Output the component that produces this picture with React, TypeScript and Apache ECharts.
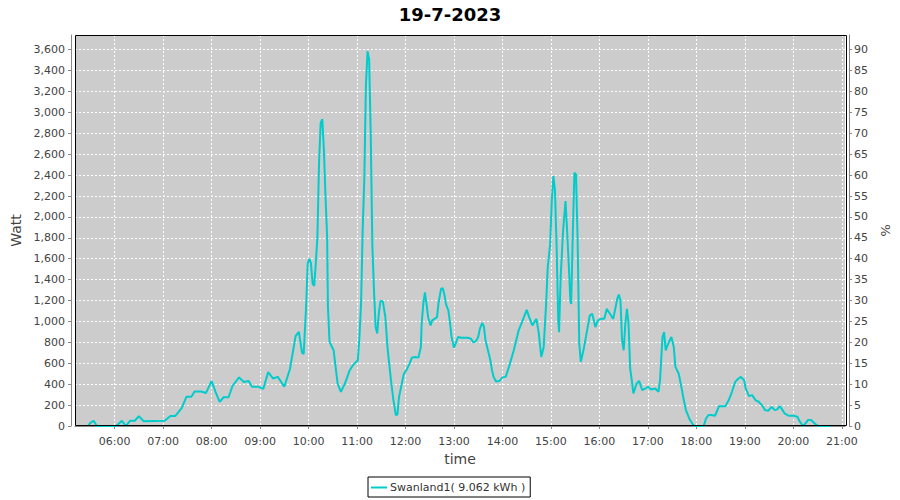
import React, { useEffect, useRef } from "react";
import * as echarts from "echarts";

const TITLE = "19-7-2023";
const SERIES_NAME = "Swanland1( 9.062 kWh )";
const X_MIN = "05:11";
const X_MAX = "21:04";
const WATT_MAX = 3740;
const PCT_MAX = 93.5;

const times = [
  "05:27","05:30","05:34","05:38","06:02","06:09","06:14","06:19","06:25","06:30","06:36",
  "07:02","07:09","07:15","07:23","07:29","07:35","07:39","07:47","07:53","08:00","08:05",
  "08:10","08:15","08:21","08:26","08:34","08:40","08:46","08:50","08:58","09:04","09:10",
  "09:16","09:22","09:30","09:37","09:44","09:48","09:52","09:54","09:57","09:59","10:01",
  "10:03","10:05","10:07","10:09","10:11","10:13","10:15","10:17","10:19","10:21","10:23",
  "10:24","10:26","10:31","10:33","10:36","10:40","10:45","10:51","10:55","11:01","11:03",
  "11:05","11:07","11:09","11:11","11:13","11:15","11:17","11:19","11:21","11:23","11:25",
  "11:27","11:29","11:32","11:35","11:38","11:42","11:45","11:48","11:50","11:52","11:55",
  "11:58","12:01","12:05","12:08","12:12","12:16","12:19","12:20","12:22","12:24","12:26",
  "12:28","12:31","12:33","12:36","12:39","12:41","12:44","12:46","12:48","12:50","12:53",
  "12:55","12:57","13:00","13:02","13:05","13:09","13:13","13:17","13:21","13:24","13:27",
  "13:30","13:32","13:35","13:37","13:39","13:42","13:45","13:47","13:49","13:52","13:56",
  "14:00","14:04","14:08","14:14","14:20","14:25","14:30","14:33","14:37","14:42","14:45",
  "14:48","14:51","14:54","14:56","14:59","15:01","15:03","15:05","15:07","15:09","15:10",
  "15:12","15:15","15:18","15:20","15:22","15:24","15:25","15:27","15:29","15:31","15:33",
  "15:35","15:37","15:41","15:44","15:48","15:51","15:55","15:58","16:02","16:06","16:09",
  "16:13","16:17","16:20","16:22","16:24","16:26","16:28","16:30","16:32","16:34","16:36",
  "16:38","16:40","16:42","16:46","16:49","16:53","16:57","17:00","17:04","17:09","17:13",
  "17:15","17:18","17:20","17:22","17:25","17:29","17:32","17:34","17:38","17:41","17:44",
  "17:47","17:52","17:57","18:09","18:12","18:15","18:18","18:23","18:28","18:36","18:40",
  "18:44","18:48","18:52","18:55","18:59","19:01","19:05","19:09","19:13","19:17","19:21",
  "19:25","19:29","19:33","19:37","19:40","19:43","19:46","19:49","19:54","20:00","20:05",
  "20:08","20:12","20:15","20:18","20:22","20:27","20:31","20:46"
];

const watts = [
  0,30,50,0,0,50,0,50,50,95,45,
  50,95,95,170,280,280,330,330,315,430,325,
  230,275,275,385,465,420,430,375,375,355,515,
  455,470,375,545,860,900,700,690,1140,1556,1600,
  1556,1364,1340,1556,1812,2515,2900,2936,2642,2195,1812,
  1140,805,725,597,406,326,406,534,582,629,853,
  1173,1875,2355,3250,3585,3505,2770,1716,1300,949,885,
  1077,1198,1190,1045,725,438,250,105,110,280,390,
  500,533,597,654,660,654,755,978,1168,1279,1168,
  1041,962,1010,1025,1041,1184,1311,1320,1263,1168,1105,
  994,851,749,787,851,844,844,844,835,800,810,
  851,930,987,950,819,724,629,533,470,425,430,
  465,470,565,724,914,1010,1111,1041,962,1025,883,
  660,756,1168,1517,1740,2152,2390,2248,1708,1010,898,
  1422,1867,2152,1867,1549,1200,1168,1835,2422,2406,1771,
  787,613,756,883,1057,1073,946,1010,1025,1025,1120,
  1073,1025,1136,1216,1257,1200,819,724,978,1120,978,
  550,438,311,406,432,343,359,375,349,359,327,
  438,851,898,724,787,851,756,565,502,390,263,
  152,57,0,0,73,105,105,98,190,190,248,
  327,422,454,470,438,359,286,295,248,232,200,
  152,146,184,152,159,190,159,121,98,98,89,
  41,0,25,57,57,19,0,0
];

const FONT = "DejaVu Sans";

function toTs(hhmm: string): number {
  const [h, m] = hhmm.split(":").map(Number);
  return new Date(2023, 6, 19, h, m, 0).getTime();
}

function pad(n: number) {
  return n < 10 ? "0" + n : "" + n;
}

export default function App() {
  const ref = useRef<HTMLDivElement>(null);

  useEffect(() => {
    if (!ref.current) return;
    const chart = echarts.init(ref.current, null, { renderer: "svg" });
    const data = times.map((t, i) => [toTs(t), watts[i]]);
    const axisLineStyle = { color: "#888888", width: 1 };
    const labelStyle = { color: "#444444", fontFamily: FONT, fontSize: 11 };
    const splitStyle = { color: "#ffffff", type: [2, 2] as any, width: 1 };
    const GL = 75, GT = 35, GR = 53, GB = 74;

    chart.setOption({
      animation: false,
      backgroundColor: "#ffffff",
      title: {
        text: TITLE,
        left: "center",
        top: 0,
        textStyle: { fontFamily: FONT, fontSize: 18, fontWeight: "bold", color: "#000000" },
      },
      grid: {
        left: GL,
        right: GR,
        top: GT,
        bottom: GB,
        show: true,
        backgroundColor: "#cccccc",
        borderWidth: 0,
      },
      graphic: [
        {
          type: "rect",
          z: 100,
          silent: true,
          shape: { x: GL + 0.5, y: GT + 0.5, width: 900 - GL - GR - 1, height: 500 - GT - GB - 1 },
          style: { fill: "none", stroke: "#000000", lineWidth: 1 },
        },
      ],
      legend: {
        left: 368,
        top: 477,
        padding: [5, 5, 4, 3],
        borderColor: "#000000",
        borderWidth: 1,
        icon: "rect",
        itemWidth: 16,
        itemHeight: 2,
        itemGap: 3,
        textStyle: { fontFamily: FONT, fontSize: 11, color: "#333333", padding: [0, 0, 0, -2] },
        data: [SERIES_NAME],
      },
      xAxis: {
        type: "time",
        min: toTs(X_MIN),
        max: toTs(X_MAX),
        minInterval: 3600 * 1000,
        maxInterval: 3600 * 1000,
        offset: 4,
        name: "time",
        nameLocation: "middle",
        nameGap: 22,
        nameTextStyle: { fontFamily: FONT, fontSize: 14, color: "#444444" },
        axisLine: { show: true, lineStyle: axisLineStyle },
        axisTick: { show: true, length: 3, lineStyle: axisLineStyle },
        axisLabel: {
          ...labelStyle,
          margin: 6,
          showMinLabel: false,
          showMaxLabel: false,
          formatter: (v: number) => {
            const d = new Date(v);
            return pad(d.getHours()) + ":" + pad(d.getMinutes());
          },
        },
        splitLine: { show: true, lineStyle: splitStyle },
      },
      yAxis: [
        {
          type: "value",
          min: 0,
          max: WATT_MAX,
          interval: 200,
          offset: 4,
          name: "Watt",
          nameLocation: "middle",
          nameGap: 42,
          nameTextStyle: { fontFamily: FONT, fontSize: 14, color: "#444444" },
          axisLine: { show: true, lineStyle: axisLineStyle },
          axisTick: { show: true, length: 3, lineStyle: axisLineStyle },
          axisLabel: {
            ...labelStyle,
            margin: 6,
            showMaxLabel: false,
            formatter: (v: number) => v.toLocaleString("en-US"),
          },
          splitLine: { show: true, lineStyle: splitStyle },
        },
        {
          type: "value",
          position: "right",
          min: 0,
          max: PCT_MAX,
          interval: 5,
          offset: 4,
          name: "%",
          nameLocation: "middle",
          nameGap: 26,
          nameRotate: -90,
          nameTextStyle: { fontFamily: FONT, fontSize: 13, color: "#444444" },
          axisLine: { show: true, lineStyle: axisLineStyle },
          axisTick: { show: true, length: 3, lineStyle: axisLineStyle },
          axisLabel: { ...labelStyle, margin: 5, showMaxLabel: false },
          splitLine: { show: false },
        },
      ],
      series: [
        {
          name: SERIES_NAME,
          type: "line",
          yAxisIndex: 0,
          data,
          symbol: "none",
          showSymbol: false,
          lineStyle: { color: "#00cccc", width: 2 },
          itemStyle: { color: "#00cccc" },
        },
      ],
    });

    return () => chart.dispose();
  }, []);

  return (
    <div
      ref={ref}
      style={{ position: "fixed", left: 0, top: 0, width: 900, height: 500 }}
    />
  );
}
